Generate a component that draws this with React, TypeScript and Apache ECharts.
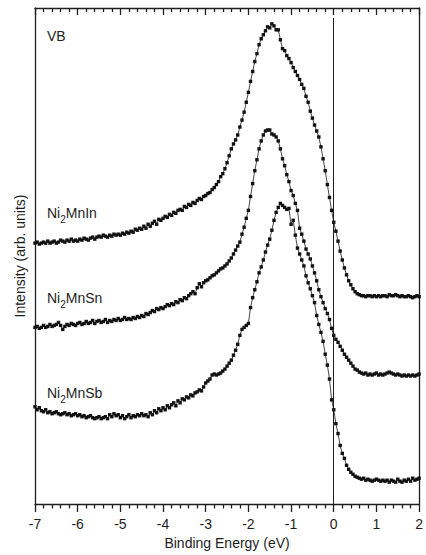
import React, { useEffect, useRef } from "react";
import * as echarts from "echarts";

// Binding energy grid (eV): -7 .. 2, sampled every 0.05 eV
const ENERGY_START = -7;
const ENERGY_STEP = 0.05;

const X_TICKS = [-7, -6, -5, -4, -3, -2, -1, 0, 1, 2];

// Intensities (arb. units), one value per energy sample
const NI2MNIN = [
  263, 264, 262, 263, 264, 263, 265, 263, 264, 265, 263, 264, 266, 265, 264, 266, 265, 267, 265, 266, 265,
  267, 266, 268, 267, 266, 268, 269, 267, 269, 270, 269, 271, 270, 269, 271, 270, 272, 271, 272, 271,
  273, 272, 274, 273, 275, 274, 277, 276, 278, 277, 280, 278, 282, 280, 283, 285, 282, 287, 286, 288,
  290, 289, 292, 291, 294, 293, 296, 297, 296, 300, 299, 302, 301, 304, 303, 306, 308, 307, 310, 311,
  313, 314, 317, 319, 322, 325, 330, 333, 338, 344, 351, 358, 363, 367, 372, 380, 387, 395, 405, 415,
  426, 436, 446, 454, 463, 469, 473, 477, 481, 480, 484, 482, 478, 478, 468, 459, 457, 452, 449, 445,
  440, 436, 432, 428, 423, 419, 411, 405, 396, 389, 382, 376, 370, 360, 348, 336, 322, 309, 296, 284,
  275, 265, 255, 246, 238, 231, 225, 221, 217, 214, 212, 211, 210, 210, 209, 210, 210, 209, 210, 209,
  210, 209, 210, 210, 209, 211, 210, 210, 211, 210, 209, 210, 209, 209, 210, 209, 208, 209, 210, 209,
];

const NI2MNSN = [
  178, 179, 177, 178, 180, 178, 179, 181, 179, 180, 181, 183, 180, 176, 179, 181, 180, 182, 181, 180, 182,
  183, 181, 182, 184, 182, 183, 185, 182, 184, 185, 183, 184, 186, 183, 185, 184, 186, 185, 187, 185,
  186, 188, 186, 187, 186, 188, 187, 189, 188, 190, 189, 192, 191, 193, 195, 194, 197, 196, 198, 197,
  199, 201, 200, 202, 201, 204, 203, 206, 205, 208, 207, 210, 212, 214, 212, 218, 222, 219, 223, 225,
  226, 228, 230, 231, 233, 235, 237, 238, 240, 242, 245, 248, 252, 256, 260, 264, 272, 279, 288, 296,
  310, 323, 336, 347, 358, 366, 372, 376, 377, 377, 373, 372, 370, 366, 358, 348, 341, 332, 325, 316,
  311, 303, 296, 278, 272, 265, 257, 252, 247, 240, 233, 225, 216, 209, 203, 197, 192, 186, 177, 170,
  166, 163, 159, 155, 151, 148, 145, 142, 139, 136, 135, 133, 132, 131, 132, 130, 131, 130, 131, 132,
  130, 131, 130, 131, 132, 133, 132, 131, 130, 131, 130, 129, 130, 129, 130, 129, 130, 129, 130, 131,
];

const NI2MNSB = [
  98, 95, 97, 94, 93, 95, 92, 93, 91, 92, 93, 91, 90, 91, 92, 90, 91, 89, 90, 91, 89,
  90, 88, 89, 87, 88, 89, 87, 86, 87, 88, 86, 87, 88, 86, 90, 88, 91, 89, 90, 87,
  89, 86, 88, 90, 87, 89, 88, 90, 89, 91, 89, 90, 88, 92, 90, 94, 92, 96, 94, 97,
  95, 99, 97, 100, 102, 99, 104, 102, 106, 105, 108, 107, 110, 109, 112, 113, 115, 114, 118, 122,
  124, 126, 130, 131, 130, 131, 132, 134, 136, 139, 142, 145, 150, 155, 161, 170, 176, 178, 180, 182,
  198, 208, 216, 224, 233, 239, 246, 254, 261, 267, 276, 286, 294, 299, 303, 301, 299, 297, 298, 282,
  286, 271, 258, 252, 246, 240, 230, 223, 217, 210, 203, 190, 181, 173, 164, 151, 140, 126, 105, 95,
  81, 71, 59, 51, 46, 39, 35, 32, 30, 28, 27, 26, 25, 26, 24, 25, 24, 23, 24, 25,
  24, 23, 24, 23, 24, 22, 24, 23, 22, 25, 23, 22, 24, 23, 25, 23, 26, 24, 25, 26,
];

const SAMPLE_LABELS = ["MnIn", "MnSn", "MnSb"];

const Y_MIN = 0;
const Y_MAX = 500;

const INK = "#1e1e1e";
const FONT = "Liberation Sans, Arial, Helvetica, sans-serif";

export default function App() {
  const ref = useRef<HTMLDivElement>(null);

  useEffect(() => {
    if (!ref.current) return;
    const chart = echarts.init(ref.current, null, { renderer: "svg" });
    const energies = NI2MNIN.map((_, i) => +(ENERGY_START + i * ENERGY_STEP).toFixed(2));
    const mk = (vals: number[]) => vals.map((v, i) => [energies[i], v]);

    const seriesBase = {
      type: "line" as const,
      xAxisIndex: 0,
      yAxisIndex: 0,
      symbol: "rect",
      symbolSize: 3.4,
      showSymbol: true,
      lineStyle: { color: "#333", width: 0.9 },
      itemStyle: { color: "#111" },
      silent: true,
      z: 3,
    };

    const labelText = (suffix: string, top: number) => ({
      type: "text",
      left: 47,
      top,
      style: {
        text: `{a|Ni}{s|2}{a|${suffix}}`,
        rich: {
          a: { fontSize: 14, fontFamily: FONT, fill: INK, lineHeight: 22, verticalAlign: "middle" },
          s: { fontSize: 10, fontFamily: FONT, fill: INK, lineHeight: 22, verticalAlign: "bottom" },
        },
      },
    });

    const tickStyle = { color: INK, width: 1.3 };

    chart.setOption({
      animation: false,
      backgroundColor: "#fff",
      grid: { left: 35, right: 4, top: 8, bottom: 47, containLabel: false },
      xAxis: [
        {
          type: "value",
          min: X_TICKS[0],
          max: X_TICKS[X_TICKS.length - 1],
          interval: 1,
          position: "bottom",
          axisLine: { show: true, onZero: false, lineStyle: { color: INK, width: 1.3 } },
          axisTick: { show: true, inside: false, length: 8, lineStyle: tickStyle },
          minorTick: { show: true, splitNumber: 5, length: 4.5, lineStyle: tickStyle },
          splitLine: { show: false },
          axisLabel: { color: INK, fontSize: 14, fontFamily: FONT, margin: 13 },
          name: "Binding Energy (eV)",
          nameLocation: "middle",
          nameGap: 32,
          nameTextStyle: { color: INK, fontSize: 14, fontFamily: FONT },
        },
        {
          type: "value",
          min: X_TICKS[0],
          max: X_TICKS[X_TICKS.length - 1],
          interval: 1,
          position: "top",
          axisLine: { show: true, onZero: false, lineStyle: { color: INK, width: 1.3 } },
          axisTick: { show: true, inside: true, length: 7, lineStyle: tickStyle },
          minorTick: { show: true, splitNumber: 5, length: 4, lineStyle: tickStyle },
          splitLine: { show: false },
          axisLabel: { show: false },
        },
      ],
      yAxis: [
        {
          type: "value",
          min: Y_MIN,
          max: Y_MAX,
          position: "left",
          axisLine: { show: true, onZero: false, lineStyle: { color: INK, width: 1.3 } },
          axisTick: { show: false },
          axisLabel: { show: false },
          splitLine: { show: false },
          name: "Intensity (arb. units)",
          nameLocation: "middle",
          nameRotate: 90,
          nameGap: 8,
          nameTextStyle: { color: INK, fontSize: 14, fontFamily: FONT },
        },
        {
          type: "value",
          min: Y_MIN,
          max: Y_MAX,
          position: "right",
          axisLine: { show: true, onZero: false, lineStyle: { color: INK, width: 1.3 } },
          axisTick: { show: false },
          axisLabel: { show: false },
          splitLine: { show: false },
        },
      ],
      series: [
        {
          ...seriesBase,
          name: "Ni2MnIn",
          data: mk(NI2MNIN),
          markLine: {
            silent: true,
            symbol: "none",
            label: { show: false },
            lineStyle: { color: INK, width: 1, type: "solid" },
            data: [[{ coord: [0, Y_MIN] }, { coord: [0, 490] }]],
          },
        },
        { ...seriesBase, name: "Ni2MnSn", data: mk(NI2MNSN) },
        { ...seriesBase, name: "Ni2MnSb", data: mk(NI2MNSB) },
      ],
      graphic: [
        {
          type: "text",
          left: 47,
          top: 29,
          style: { text: "VB", fontSize: 14, fontFamily: FONT, fill: INK },
        },
        labelText(SAMPLE_LABELS[0], 206),
        labelText(SAMPLE_LABELS[1], 291),
        labelText(SAMPLE_LABELS[2], 386),
      ],
    });

    return () => chart.dispose();
  }, []);

  return (
    <div
      ref={ref}
      style={{ position: "fixed", left: 0, top: 0, width: 426, height: 555, background: "#fff" }}
    />
  );
}
